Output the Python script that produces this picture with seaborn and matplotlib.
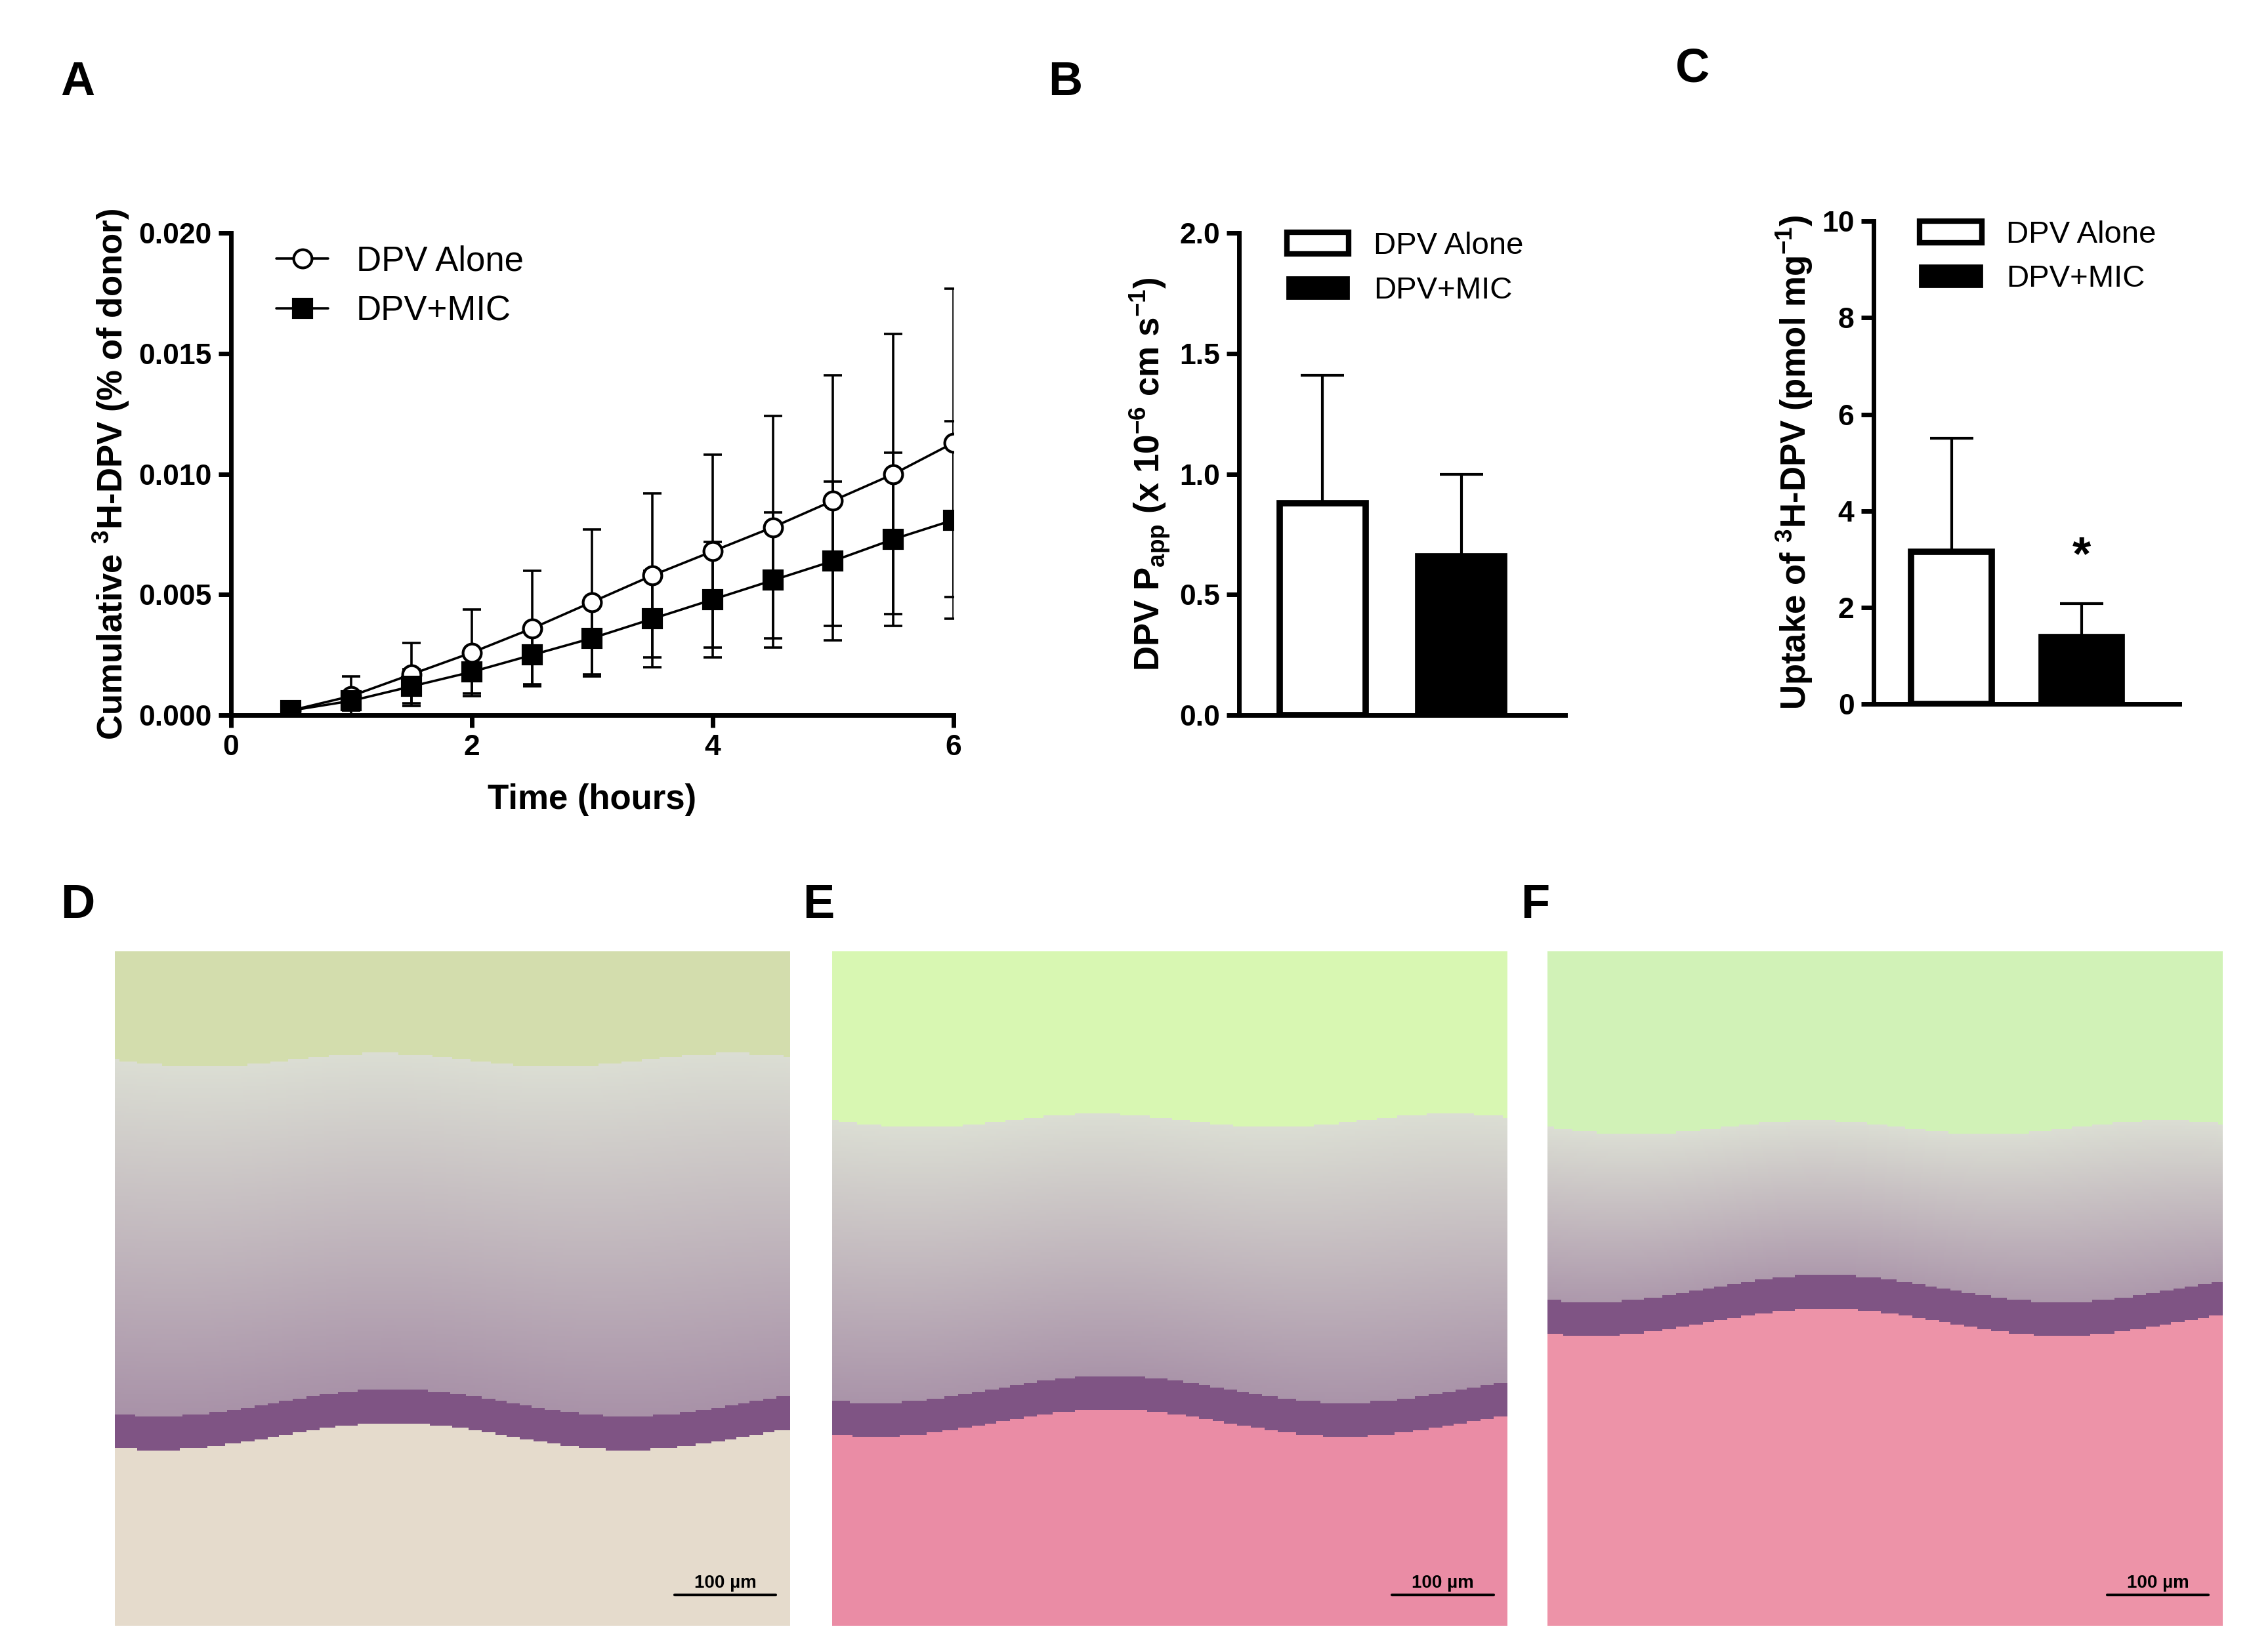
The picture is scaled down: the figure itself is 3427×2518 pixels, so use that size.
import numpy as np
import pandas as pd
import matplotlib
matplotlib.use("Agg")
import matplotlib.pyplot as plt
import seaborn as sns
from matplotlib.patches import Patch

sns.set_style("ticks")
plt.rcParams['font.family'] = ['Liberation Sans', 'DejaVu Sans']
plt.rcParams['mathtext.fontset'] = 'custom'
plt.rcParams['mathtext.rm'] = 'Liberation Sans'
plt.rcParams['mathtext.bf'] = 'Liberation Sans:bold'
for k in ['text.color', 'axes.labelcolor', 'xtick.color', 'ytick.color', 'axes.edgecolor']:
    plt.rcParams[k] = 'black'

time_h = [0.5, 1, 1.5, 2, 2.5, 3, 3.5, 4, 4.5, 5, 5.5, 6]
alone_mean = [0.0002, 0.0008, 0.0017, 0.0026, 0.0036, 0.0047, 0.0058, 0.0068, 0.0078, 0.0089, 0.0100, 0.0113]
alone_sd = [0.0001, 0.0008, 0.0013, 0.0018, 0.0024, 0.0030, 0.0034, 0.0040, 0.0046, 0.0052, 0.0058, 0.0064]
mic_mean = [0.0002, 0.0006, 0.0012, 0.0018, 0.0025, 0.0032, 0.0040, 0.0048, 0.0056, 0.0064, 0.0073, 0.0081]
mic_sd = [0.0001, 0.0004, 0.0007, 0.0009, 0.0012, 0.0016, 0.0020, 0.0024, 0.0028, 0.0033, 0.0036, 0.0041]

groups = ["DPV Alone", "DPV+MIC"]
papp_mean = [0.88, 0.66]
papp_sd = [0.53, 0.34]
uptake_mean = [3.15, 1.38]
uptake_sd = [2.35, 0.70]

fig = plt.figure(figsize=(17.135, 12.59), dpi=200)
LW = 2.5
TFS = 16
LFS = 19

def style(ax):
    sns.despine(ax=ax)
    for s in ['left', 'bottom']:
        ax.spines[s].set_linewidth(LW)
    ax.tick_params(width=LW, length=7, labelsize=TFS)
    for t in ax.get_xticklabels() + ax.get_yticklabels():
        t.set_fontweight('bold')

# Panel A
axA = fig.add_axes([0.1026, 0.567, 0.3214, 0.292])
df = pd.DataFrame({"t": time_h * 2, "v": alone_mean + mic_mean,
                   "g": ["DPV Alone"] * 12 + ["DPV+MIC"] * 12})
axA.errorbar(time_h, alone_mean, yerr=alone_sd, fmt='none', ecolor='black', capsize=5, elinewidth=1.3, capthick=1.3)
axA.errorbar(time_h, mic_mean, yerr=mic_sd, fmt='none', ecolor='black', capsize=5, elinewidth=1.3, capthick=1.3)
sns.lineplot(data=df, x="t", y="v", hue="g", style="g", markers={"DPV Alone": "o", "DPV+MIC": "s"},
             dashes=False, palette={"DPV Alone": "black", "DPV+MIC": "black"}, ax=axA,
             markersize=10, linewidth=1.3, markeredgewidth=1.5, markeredgecolor='black')
for line in axA.get_lines():
    if line.get_marker() == 'o':
        line.set_markerfacecolor('white')
axA.set_xlim(0, 6)
axA.set_ylim(0, 0.020)
axA.set_xticks([0, 2, 4, 6])
axA.set_yticks([0, 0.005, 0.010, 0.015, 0.020])
axA.set_yticklabels(["0.000", "0.005", "0.010", "0.015", "0.020"])
axA.set_xlabel("Time (hours)", fontsize=LFS, fontweight='bold', labelpad=12)
axA.set_ylabel(r"Cumulative $^{\mathbf{3}}$H-DPV (% of donor)", fontsize=LFS, fontweight='bold')
h, l = axA.get_legend_handles_labels()
for hh in h:
    if hh.get_marker() == 'o':
        hh.set_markerfacecolor('white')
axA.legend(h, l, frameon=False, fontsize=19, loc='upper left', handlelength=1.5, bbox_to_anchor=(0.02, 1.04))
style(axA)

def barpanel(rect, means, sds, ylim, yticks, yticklabels, ylabel):
    ax = fig.add_axes(rect)
    bdf = pd.DataFrame({"g": groups, "v": means})
    sns.barplot(data=bdf, x="g", y="v", hue="g", palette={"DPV Alone": "white", "DPV+MIC": "black"},
                edgecolor='black', linewidth=3.5, width=0.62, ax=ax, legend=False)
    ax.errorbar([0, 1], means, yerr=[[0, 0], sds], fmt='none', ecolor='black', capsize=12, elinewidth=1.5, capthick=1.5)
    ax.set_ylim(*ylim)
    ax.set_xlim(-0.6, 1.75)
    ax.set_yticks(yticks)
    ax.set_yticklabels(yticklabels)
    ax.set_xticks([])
    ax.set_xlabel("")
    ax.set_ylabel(ylabel, fontsize=LFS, fontweight='bold')
    ax.legend([Patch(facecolor='white', edgecolor='black', linewidth=3), Patch(facecolor='black', edgecolor='black')],
              groups, frameon=False, fontsize=17, loc='upper left', bbox_to_anchor=(0.06, 1.06), handlelength=2)
    style(ax)
    return ax

axB = barpanel([0.551, 0.567, 0.145, 0.292], papp_mean, papp_sd, (0, 2.0), [0, 0.5, 1.0, 1.5, 2.0],
               ["0.0", "0.5", "1.0", "1.5", "2.0"], r"DPV P$_{\mathbf{app}}$ (x 10$^{\mathbf{-6}}$ cm s$^{\mathbf{-1}}$)")
axC = barpanel([0.833, 0.574, 0.136, 0.292], uptake_mean, uptake_sd, (0, 10), [0, 2, 4, 6, 8, 10],
               ["0", "2", "4", "6", "8", "10"], r"Uptake of $^{\mathbf{3}}$H-DPV (pmol mg$^{\mathbf{-1}}$)")
axC.text(1, uptake_mean[1] + uptake_sd[1] + 0.5, "*", ha='center', va='bottom', fontsize=26, fontweight='bold')

def tissue(rect, top_frac, basal_frac, stroma_col, bg_col):
    ax = fig.add_axes(rect)
    n = 300
    y = np.linspace(0, 1, n)[:, None]
    x = np.linspace(0, 1, n)[None, :]
    img = np.zeros((n, n, 3))
    wave_top = top_frac + 0.01 * np.sin(x * 12)
    wave_b = basal_frac + 0.02 * np.sin(x * 9 + 1)
    bg = np.array(bg_col); epi = np.array([0.86, 0.87, 0.83]); basal = np.array([0.50, 0.33, 0.52])
    stroma = np.array(stroma_col)
    for c in range(3):
        ch = np.where(y < wave_top, bg[c],
             np.where(y < wave_b - 0.05, epi[c] + (basal[c] - epi[c]) * np.clip((y - wave_top) / (wave_b - wave_top), 0, 1) * 0.6,
             np.where(y < wave_b, basal[c], stroma[c])))
        img[:, :, c] = ch
    ax.imshow(img, aspect='auto', extent=(0, 1, 1, 0))
    ax.set_xlim(0, 1); ax.set_ylim(1, 0)
    ax.axis('off')
    ax.plot([0.83, 0.98], [0.955, 0.955], color='black', lw=1.5)
    ax.text(0.905, 0.95, "100 µm", ha='center', va='bottom', fontsize=10, fontweight='bold')
    return ax

tissue([0.051, 0.016, 0.300, 0.408], 0.16, 0.72, [0.90, 0.86, 0.80], [0.83, 0.87, 0.68])
tissue([0.370, 0.016, 0.300, 0.408], 0.25, 0.70, [0.92, 0.55, 0.65], [0.85, 0.97, 0.70])
tissue([0.688, 0.016, 0.300, 0.408], 0.26, 0.55, [0.93, 0.58, 0.66], [0.82, 0.95, 0.72])

for lab, xx, yy in [("A", 0.027, 0.95), ("B", 0.466, 0.95), ("C", 0.745, 0.958),
                    ("D", 0.027, 0.452), ("E", 0.357, 0.452), ("F", 0.676, 0.452)]:
    fig.text(xx, yy, lab, fontsize=26, fontweight='bold', ha='left', va='center')

fig.savefig("out.png", dpi=200)
